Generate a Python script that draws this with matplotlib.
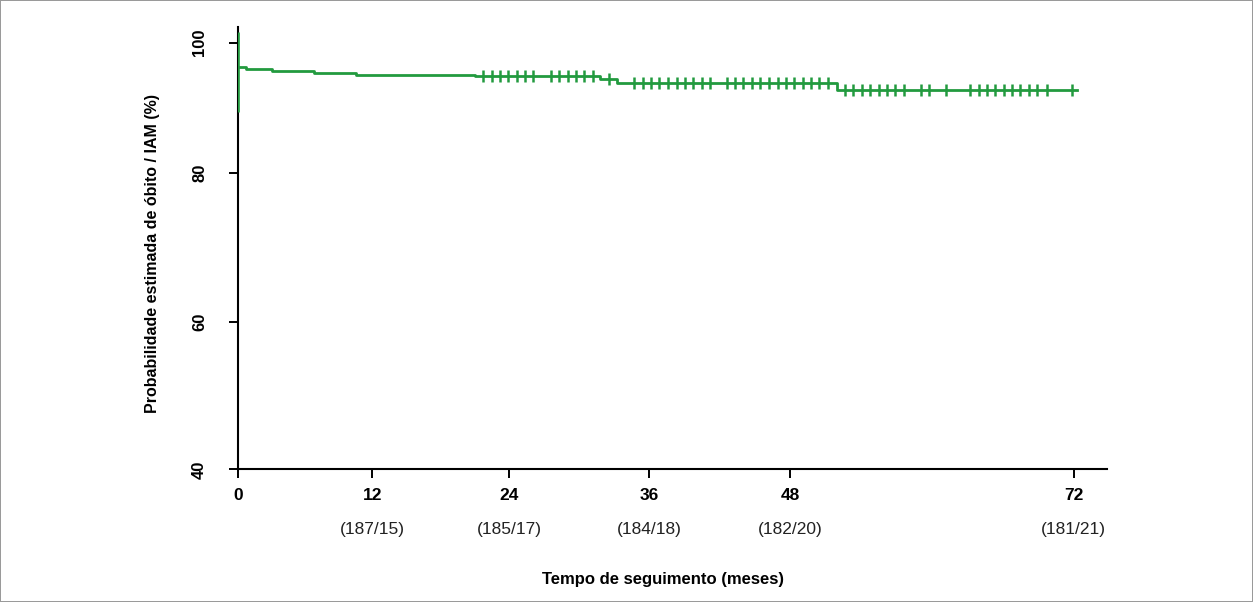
import numpy as np
import matplotlib
matplotlib.use("Agg")
import matplotlib.pyplot as plt

plt.rcParams['font.family'] = ['Liberation Sans', 'DejaVu Sans']

# Kaplan-Meier steps (time in months, estimated probability in %)
step_times = [0, 0.69, 3.02, 6.78, 10.54, 21.02, 31.78, 33.24, 51.92, 72.25]
step_levels = [96.31, 96.0, 95.69, 95.38, 95.08, 94.85, 94.46, 93.82, 92.68, 92.68]
start_span = [89.4, 101.7]

# censored observations
censor_times = [21.74, 22.48, 23.21, 23.94, 24.66, 25.37, 26.08, 27.59, 28.32, 29.05,
                29.73, 30.46, 31.19, 32.55,
                34.72, 35.44, 36.14, 36.85, 37.56, 38.33, 39.03, 39.74, 40.45, 41.15,
                42.57, 43.27, 43.98, 44.74, 45.45, 46.16, 46.90, 47.60, 48.30, 49.02,
                49.72, 50.43, 51.19,
                52.60, 53.31, 54.07, 54.78, 55.49, 56.19, 56.90, 57.61, 59.02, 59.72,
                61.14, 63.25, 63.96, 64.66, 65.37, 66.08, 66.78, 67.49, 68.19, 68.90,
                69.75, 71.86]

x_ticks = [0, 12, 24, 36, 48, 72]
y_ticks = [40, 60, 80, 100]
at_risk_times = [12, 24, 36, 48, 72]
at_risk_labels = ['(187/15)', '(185/17)', '(184/18)', '(182/20)', '(181/21)']

# axis calibration of the scanned figure (axes are not evenly spaced)
x_cal_data = [-12, 0, 12, 24, 36, 48, 72, 96]
x_cal_pos = [104.3, 238.3, 372.3, 509.0, 649.3, 790.7, 1074.0, 1357.3]
y_cal_data = [20, 40, 60, 80, 100, 120]
y_cal_pos = [-14.7, 132.5, 279.7, 428.7, 559.2, 689.7]

green = '#229a3f'

fig = plt.figure(figsize=(12.53, 6.02), dpi=100, linewidth=1.2, edgecolor='#9a9a9a')
ax = fig.add_axes([0.19018, 0.22010, 0.69306, 0.73505])

ax.set_xscale('function', functions=(lambda v: np.interp(v, x_cal_data, x_cal_pos),
                                     lambda u: np.interp(u, x_cal_pos, x_cal_data)))
ax.set_yscale('function', functions=(lambda v: np.interp(v, y_cal_data, y_cal_pos),
                                     lambda u: np.interp(u, y_cal_pos, y_cal_data)))

ax.step(step_times, step_levels, where='post', color=green, lw=2.0, zorder=3)
ax.vlines(0, start_span[0], start_span[1], color=green, lw=1.9, zorder=3)

idx = np.searchsorted(step_times, censor_times, side='right') - 1
censor_levels = np.asarray(step_levels)[idx]
ax.plot(censor_times, censor_levels, ls='none', marker='|', ms=9, mew=1.8,
        color=green, zorder=3)

ax.set_xlim(0, 74.8)
ax.set_ylim(40, 102.4)
ax.set_xticks(x_ticks)
ax.set_yticks(y_ticks)
ax.set_xticklabels([str(t) for t in x_ticks], fontsize=12.5, fontweight='bold')
ax.set_yticklabels([str(t) for t in y_ticks], fontsize=12, fontweight='bold',
                   rotation=90, va='center')
ax.minorticks_off()

for side in ['top', 'right']:
    ax.spines[side].set_visible(False)
for side in ['left', 'bottom']:
    ax.spines[side].set_linewidth(1.5)
    ax.spines[side].set_color('black')
ax.tick_params(axis='x', direction='out', length=6.5, width=1.4, pad=7)
ax.tick_params(axis='y', direction='out', length=6.5, width=1.4, pad=16)

for t, lab in zip(at_risk_times, at_risk_labels):
    ax.text(t, -0.135, lab, transform=ax.get_xaxis_transform(), ha='center', va='center',
            fontsize=12.5, color='#222222')

ax.set_xlabel('Tempo de seguimento (meses)', fontsize=12, fontweight='bold')
ax.xaxis.set_label_coords(0.489, -0.232)
ax.set_ylabel('Probabilidade estimada de óbito / IAM (%)', fontsize=11.5, fontweight='bold')
ax.yaxis.set_label_coords(-0.090, 0.489)

fig.savefig('out.png', dpi=100, edgecolor=fig.get_edgecolor())
